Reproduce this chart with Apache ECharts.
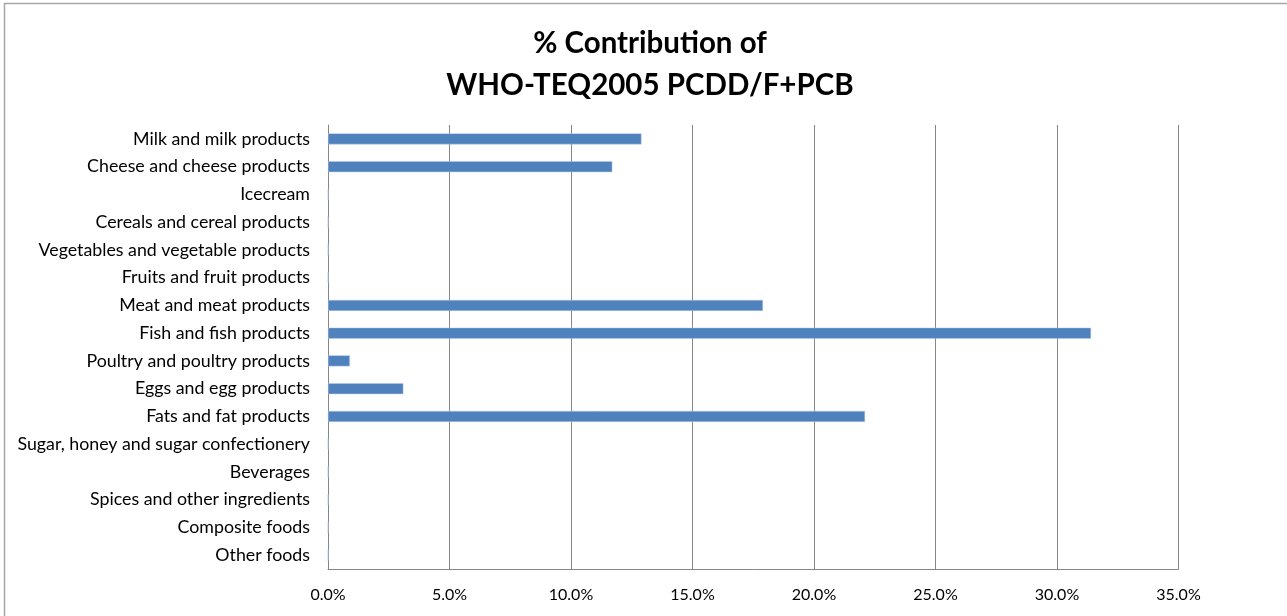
<!DOCTYPE html>
<html>
<head>
<meta charset="utf-8">
<script src="https://cdn.jsdelivr.net/npm/echarts@6/dist/echarts.min.js"></script>
<style>
  html, body { margin: 0; padding: 0; background: #fff; }
  #main { width: 1287px; height: 616px; }
</style>
</head>
<body>
<div id="main"></div>
<script>
var categories = [
  'Milk and milk products',
  'Cheese and cheese products',
  'Icecream',
  'Cereals and cereal products',
  'Vegetables and vegetable products',
  'Fruits and fruit products',
  'Meat and meat products',
  'Fish and fish products',
  'Poultry and poultry products',
  'Eggs and egg products',
  'Fats and fat products',
  'Sugar, honey and sugar confectionery',
  'Beverages',
  'Spices and other ingredients',
  'Composite foods',
  'Other foods'
]
var contribution = [12.9, 11.7, 0, 0, 0, 0, 17.9, 31.4, 0.9, 3.1, 22.1, 0, 0, 0, 0, 0]
var xTicks = { min: 0, max: 35, step: 5 }

function main() {
  var myChart = echarts.init(document.getElementById('main'))
  var font = 'Lato, "Open Sans", sans-serif'
  var option = {
    animation: false,
    backgroundColor: '#fff',
    textStyle: { fontFamily: font },
    graphic: [{
      type: 'rect',
      shape: { x: 4.5, y: 3.5, width: 1300, height: 640 },
      style: { fill: 'none', stroke: '#a6a6a6', lineWidth: 1.5 },
      silent: true
    }],
    title: {
      text: '% Contribution of\nWHO-TEQ2005 PCDD/F+PCB',
      left: 645,
      top: 17,
      textAlign: 'center',
      textStyle: {
        fontFamily: font,
        fontSize: 29.5,
        fontWeight: 'bold',
        color: '#000',
        lineHeight: 42
      }
    },
    grid: { left: 328, right: 108.5, top: 125, bottom: 47 },
    xAxis: {
      type: 'value',
      min: xTicks.min,
      max: xTicks.max,
      interval: xTicks.step,
      axisLine: { show: true, lineStyle: { color: '#868686', width: 1 } },
      axisTick: { show: false },
      axisLabel: {
        margin: 18,
        fontSize: 16,
        color: '#000',
        formatter: function (v) { return v.toFixed(1) + '%' }
      },
      splitLine: { show: true, lineStyle: { color: '#868686', width: 1 } }
    },
    yAxis: {
      type: 'category',
      data: categories,
      inverse: true,
      axisLine: { show: true, lineStyle: { color: '#868686', width: 1 } },
      axisTick: { show: false },
      axisLabel: { margin: 18, fontSize: 17.8, color: '#000' }
    },
    series: [{
      type: 'bar',
      data: contribution,
      barWidth: 11,
      itemStyle: { color: '#4F81BD', borderColor: '#B9CDE5', borderWidth: 0.5 }
    }]
  }
  myChart.setOption(option)
}

window.onload = main
</script>
</body>
</html>
